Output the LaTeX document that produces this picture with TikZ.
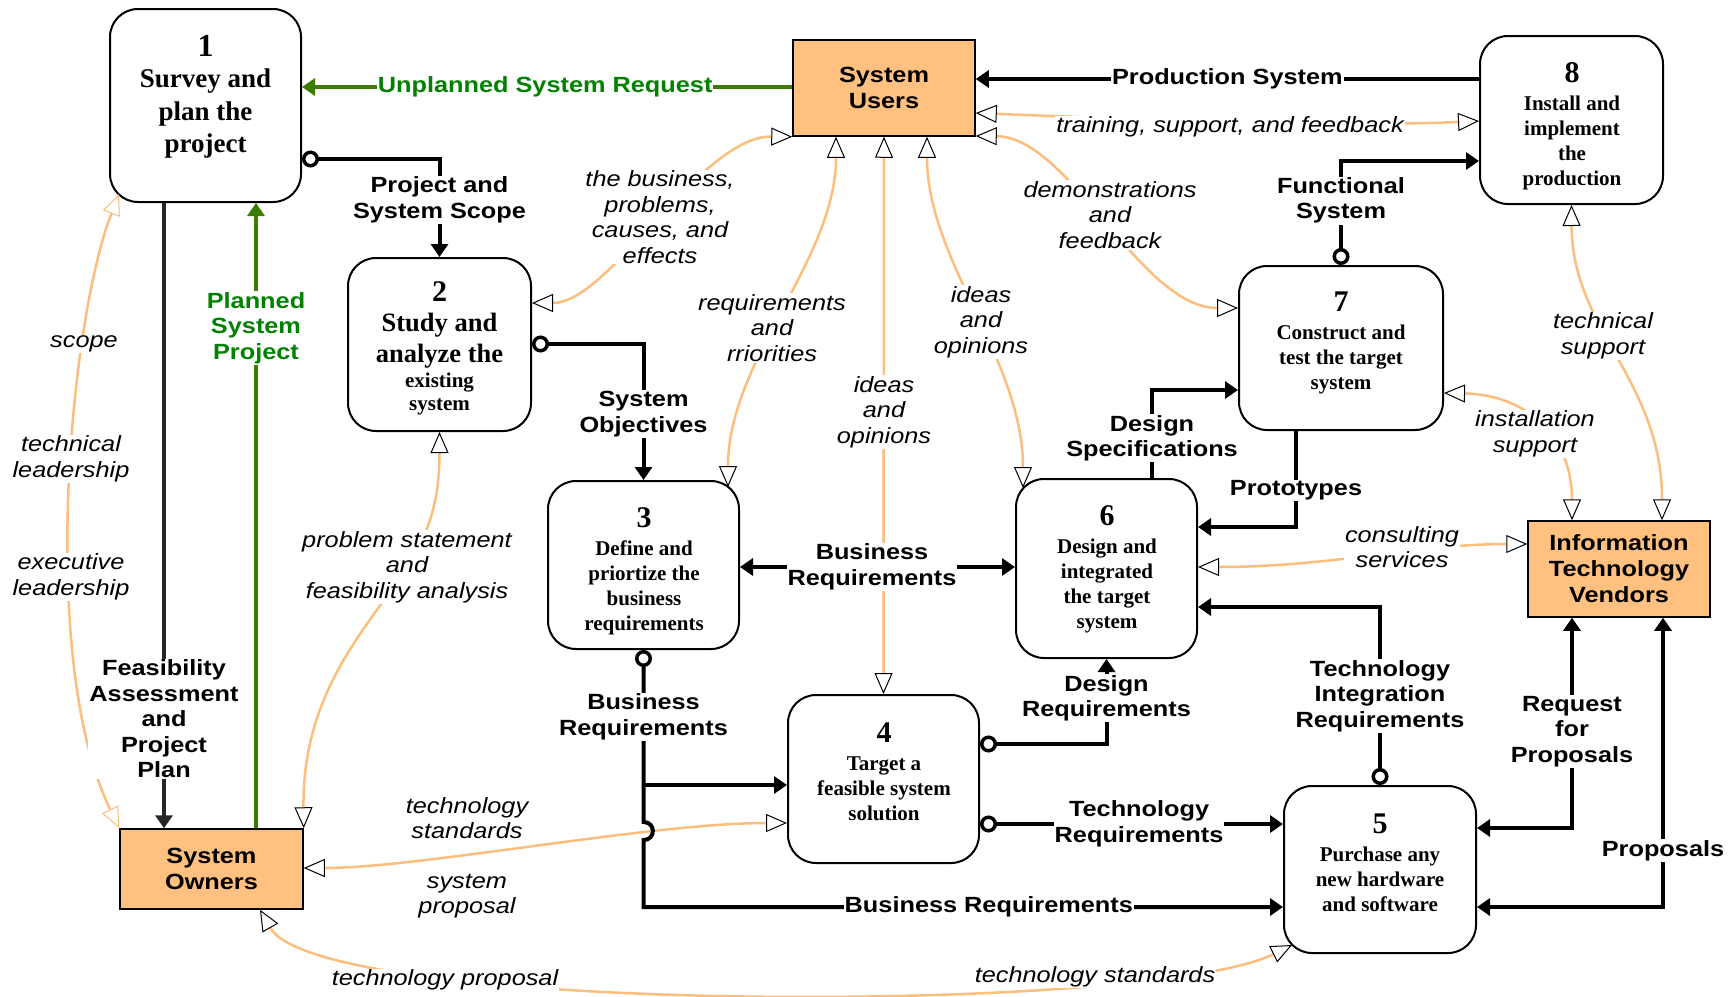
\documentclass[tikz,border=0pt]{standalone}
\usepackage{fontspec}
\setmainfont{Liberation Serif}
\newfontfamily\sansx{Liberation Sans}[FakeStretch=1.15]
\usetikzlibrary{arrows.meta}

\definecolor{peach}{RGB}{255,192,128}
\definecolor{orng}{RGB}{252,190,125}
\definecolor{gline}{RGB}{60,125,0}
\definecolor{gtext}{RGB}{0,130,0}
\definecolor{darkline}{RGB}{38,38,38}

\tikzset{
  Sld/.tip={Triangle[length=13pt,width=17pt]},
  Rng/.tip={Circle[length=17pt,fill=white,line width=3.5pt]},
  Opn/.tip={Triangle[length=21pt,width=18pt,color=black,fill=white,line width=1pt]},
  OpnO/.tip={Triangle[length=21pt,width=18pt,color=orng,fill=white,line width=1pt]},
  proc/.style={draw, line width=2pt, rounded corners=28pt, fill=white, inner sep=0pt},
  ptext/.style={font=\bfseries\fontsize{21}{25}\selectfont, align=center},
  agent/.style={draw, line width=1.5pt, fill=peach, inner sep=0pt, align=center,
    font=\sansx\bfseries\fontsize{22}{26}\selectfont},
  flow/.style={draw=black, line width=4pt},
  oflow/.style={draw=orng, line width=2.5pt, Opn-Opn},
  lbl/.style={fill=white, inner sep=1pt, align=center,
    font=\sansx\bfseries\fontsize{22}{25.5}\selectfont},
  ilbl/.style={fill=white, inner sep=1pt, align=center,
    font=\sansx\itshape\fontsize{22}{25.5}\selectfont},
  glbl/.style={lbl, text=gtext},
}

\begin{document}
\begin{tikzpicture}[x=1pt,y=-1pt]
\useasboundingbox (0,0) rectangle (1731,996);

% ---------- process boxes ----------
\node[proc, minimum width=191pt, minimum height=193pt] (b1) at (205.5,105.5) {};
\node[proc, minimum width=183pt, minimum height=173pt] (b2) at (439.5,344.5) {};
\node[proc, minimum width=191pt, minimum height=168pt] (b3) at (643.5,565) {};
\node[proc, minimum width=191pt, minimum height=168pt] (b4) at (883.5,779) {};
\node[proc, minimum width=192pt, minimum height=167pt] (b5) at (1380,869.5) {};
\node[proc, minimum width=181pt, minimum height=179pt] (b6) at (1106.5,568.5) {};
\node[proc, minimum width=204pt, minimum height=164pt] (b7) at (1341,348) {};
\node[proc, minimum width=183pt, minimum height=168pt] (b8) at (1571.5,120) {};

\node[ptext, font=\bfseries\fontsize{27}{32.5}\selectfont] (t1) at (205.5,97)
  {{\fontsize{32}{32}\selectfont 1}\\[-1pt]Survey and\\plan the\\project};
\node[ptext, font=\bfseries\fontsize{26.5}{31}\selectfont] (t2) at (439.5,348.5)
  {{\fontsize{30}{30}\selectfont 2}\\[-1pt]Study and\\analyze the\\[-6pt]{\fontsize{21}{25}\selectfont existing}\\[-8pt]{\fontsize{21}{25}\selectfont system}};
\node[ptext] (t3) at (644,571)
  {{\fontsize{30}{30}\selectfont 3}\\[3pt]Define and\\priortize the\\business\\requirements};
\node[ptext] (t4) at (884,772)
  {{\fontsize{30}{30}\selectfont 4}\\[3pt]Target a\\feasible system\\solution};
\node[ptext] (t5) at (1380,863)
  {{\fontsize{30}{30}\selectfont 5}\\[3pt]Purchase any\\new hardware\\and software};
\node[ptext] (t6) at (1107,569)
  {{\fontsize{30}{30}\selectfont 6}\\[3pt]Design and\\integrated\\the target\\system};
\node[ptext] (t7) at (1341,343)
  {{\fontsize{30}{30}\selectfont 7}\\[3pt]Construct and\\test the target\\system};
\node[ptext] (t8) at (1572,126)
  {{\fontsize{30}{30}\selectfont 8}\\[3pt]Install and\\implement\\the\\production};

% ---------- external agents ----------
\node[agent, minimum width=182pt, minimum height=96pt] (users) at (884,88) {System\\Users};
\node[agent, minimum width=183pt, minimum height=80pt] (owners) at (211.5,869) {System\\Owners};
\node[agent, minimum width=182pt, minimum height=96pt] (itv) at (1619,569) {Information\\Technology\\Vendors};

% points on rounded box corners
\coordinate (b1c) at (119,194);
\coordinate (b3tip) at (728,487);
\coordinate (b6tip) at (1023,488);
\coordinate (b5c) at (1292,945);
\coordinate (fork) at (643.5,785);

% ---------- informal (orange) flows ----------
\draw[oflow] (users.east |- 0,113) .. controls (1150,120) and (1350,127) .. (b8.west |- 0,121);
\node[ilbl] at (1230,127) {training, support, and feedback};

\draw[oflow] (users.east |- 0,136) .. controls (1070,137) and (1140,308) .. (b7.west |- 0,308);
\node[ilbl] at (1110,215) {demonstrations\\and\\feedback};

\draw[oflow] (b2.east |- 0,303) .. controls (610,303) and (700,136) .. (users.south west);
\node[ilbl] at (660,217) {the business,\\problems,\\causes, and\\effects};

\draw[oflow] (users.south -| 836,0) .. controls (836,260) and (728,360) .. (b3tip);
\node[ilbl] at (772,328) {requirements\\and\\rriorities};

\draw[oflow] (users.south) -- (b4.north);
\node[ilbl] at (884,412) {ideas\\and\\opinions};

\draw[oflow] (users.south -| 927,0) .. controls (927,260) and (1023,360) .. (b6tip);
\node[ilbl] at (981,322) {ideas\\and\\opinions};

\draw[draw=orng, line width=2.5pt, OpnO-OpnO] (b1c) .. controls (70,320) and (38,660) .. (owners.north west);
\node[ilbl] at (84,344) {scope};
\node[ilbl] at (71,459) {technical\\leadership};
\node[ilbl] at (71,577) {executive\\leadership};

\draw[oflow] (b2.south) .. controls (439.5,495) and (432,528) .. (407,567)
  .. controls (370,625) and (302,690) .. (owners.north east);
\node[ilbl] at (407,567) {problem statement\\and\\feasibility analysis};

\draw[oflow] (owners.east |- 0,868) .. controls (420,868) and (650,823) .. (b4.west |- 0,823);
\node[ilbl, fill=none] at (467,818) {technology\\standards};
\node[ilbl, fill=none] at (467,896) {system\\proposal};

\draw[oflow] (owners.south -| 260,0) .. controls (320,1015) and (1150,1015) .. (b5c);
\node[ilbl] at (445,980) {technology proposal};
\node[ilbl] at (1095,977) {technology standards};

\draw[oflow] (b6.east |- 0,567) .. controls (1330,567) and (1420,544) .. (itv.west |- 0,544);
\node[ilbl] at (1402,547) {consulting\\services};

\draw[oflow] (b7.east |- 0,393) .. controls (1530,395) and (1572,440) .. (itv.north -| 1572,0);
\node[ilbl] at (1535,434) {installation\\support};

\draw[oflow] (b8.south) .. controls (1572,330) and (1662,380) .. (itv.north -| 1662,0);
\node[ilbl] at (1603,336) {technical\\support};

% ---------- formal flows ----------
\draw[flow, draw=gline, line width=4.5pt, -Sld] (users.west |- 0,87) --
  node[glbl, pos=0.504] {Unplanned System Request} (b1.east |- 0,87);

\draw[flow, -Sld] (b8.west |- 0,79) -- node[lbl] {Production System} (users.east |- 0,79);

\draw[flow, Rng-Sld] (b1.east |- 0,159) -| node[lbl, pos=0.707] {Project and\\System Scope} (b2.north);

\draw[flow, draw=darkline, -Sld] (b1.south -| 164,0) --
  node[lbl, pos=0.825] {Feasibility\\Assessment\\and\\Project\\Plan} (owners.north -| 164,0);

\draw[flow, draw=gline, line width=4.5pt, -Sld] (owners.north -| 256,0) --
  node[glbl, pos=0.80] {Planned\\System\\Project} (b1.south -| 256,0);

\draw[flow, Rng-Sld] (b2.east |- 0,344) -| node[lbl, pos=0.757] {System\\Objectives} (b3.north);

\draw[flow, Sld-Sld] (b3.east |- 0,567) -- node[lbl, pos=0.48] {Business\\Requirements} (b6.west |- 0,567);

\draw[flow, Rng-Sld] (b3.south) -- node[lbl, pos=0.387] {Business\\Requirements} (643.5,822)
  .. controls (656,822) and (656,840) .. (643.5,840) -- (643.5,907)
  -- node[lbl, pos=0.54] {Business Requirements} (b5.west |- 0,907);
\draw[flow, -Sld] (fork) -- (b4.west |- fork);

\draw[flow, Rng-Sld] (b4.east |- 0,744) -| node[lbl, pos=0.77] {Design\\Requirements} (b6.south);

\draw[flow, Rng-Sld] (b4.east |- 0,824) -- node[lbl, pos=0.525] {Technology\\Requirements} (b5.west |- 0,824);

\draw[flow, Rng-Sld] (b5.north) |- node[lbl, pos=0.25] {Technology\\Integration\\Requirements} (b6.east |- 0,607);

\draw[flow, -Sld] (b7.south -| 1296,0) |- node[lbl, pos=0.31] {Prototypes} (b6.east |- 0,527);

\draw[flow, -Sld] (b6.north -| 1152,0) |- node[lbl, pos=0.225] {Design\\Specifications} (b7.west |- 0,390);

\draw[flow, Rng-Sld] (b7.north) |- node[lbl, pos=0.31] {Functional\\System} (b8.west |- 0,161);

\draw[flow, Sld-Sld] (b5.east |- 0,828) -| node[lbl, pos=0.73] {Request\\for\\Proposals} (itv.south -| 1572,0);

\draw[flow, Sld-Sld] (b5.east |- 0,907) -| node[lbl, pos=0.598] {Proposals} (itv.south -| 1663,0);

\end{tikzpicture}
\end{document}
